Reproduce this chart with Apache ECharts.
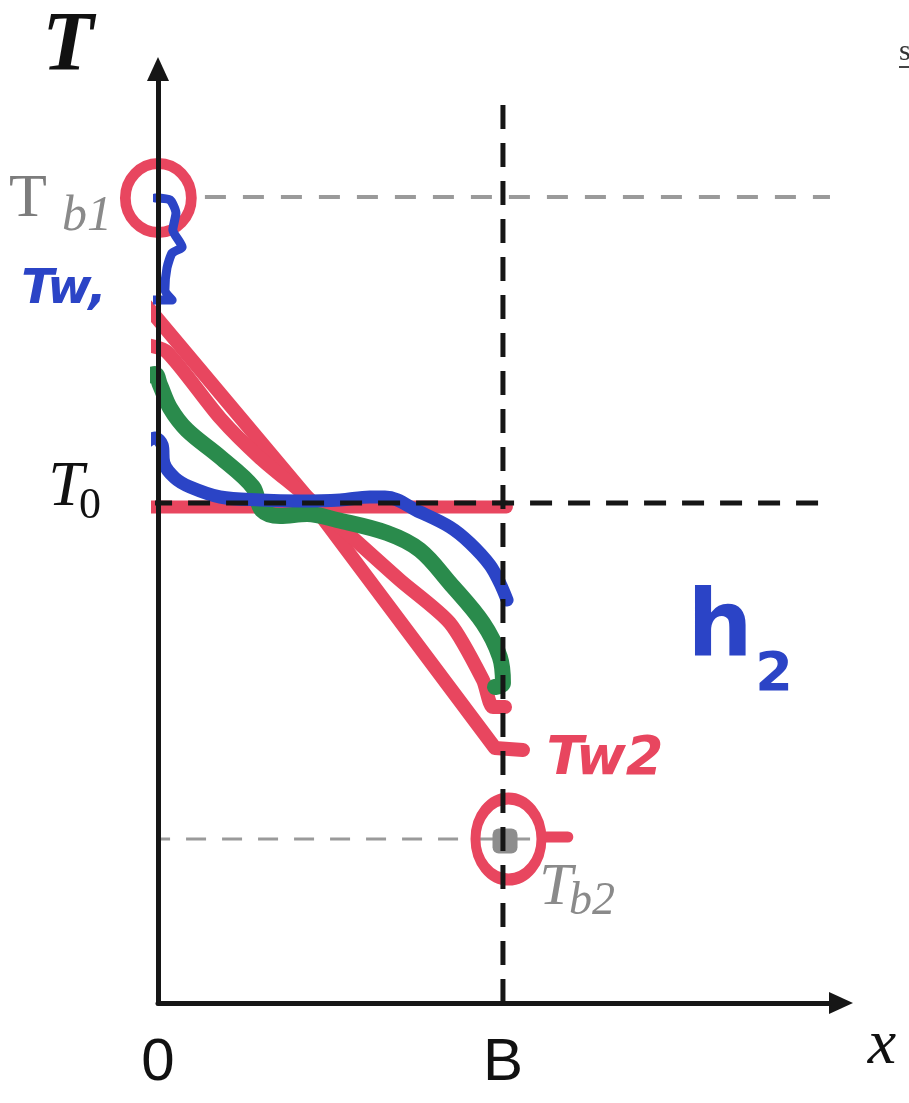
<!DOCTYPE html>
<html>
<head>
<meta charset="utf-8">
<script src="https://cdn.jsdelivr.net/npm/echarts@6/dist/echarts.min.js"></script>
<style>
  html, body { margin: 0; padding: 0; background: #ffffff; }
  #chart { width: 909px; height: 1103px; }
</style>
</head>
<body>
<div id="chart"></div>
<script>
// x is measured in units of the wall thickness B, T in arbitrary temperature units
const xTickLabels = { 0: '0', 1: 'B' };
const wallX = 1;
const T0 = 50.0;    // initial uniform temperature
const Tb1 = 80.6;   // bulk fluid temperature on the left
const Tb2 = 16.4;   // bulk fluid temperature on the right

// Temperature profiles through the wall at successive times
const profileInitial = [[-0.02, 49.6], [1.01, 49.6]];
const profileEarly = [
  [-0.038, 56.0], [-0.009, 56.5], [0.012, 55.8], [0.017, 54.0], [0.049, 52.5],
  [0.093, 51.6], [0.180, 50.6], [0.296, 50.3], [0.412, 50.2], [0.528, 50.3],
  [0.614, 50.6], [0.658, 50.6], [0.759, 49.1], [0.846, 47.6], [0.904, 46.0],
  [0.962, 43.8], [0.991, 42.0], [1.012, 40.3]
];
const profileMiddle = [
  [-0.038, 62.6], [-0.009, 62.9], [0.006, 61.8], [0.035, 59.5], [0.084, 57.3],
  [0.180, 54.6], [0.275, 51.6], [0.301, 49.3], [0.354, 48.7], [0.432, 48.9],
  [0.519, 48.3], [0.664, 47.0], [0.759, 45.3], [0.846, 42.0], [0.942, 38.0],
  [0.991, 34.6], [1.000, 32.0], [0.977, 31.6]
];
const profileLate = [
  [-0.032, 65.8], [0.026, 65.1], [0.180, 58.5], [0.296, 54.5], [0.432, 50.6],
  [0.701, 42.3], [0.846, 38.0], [0.942, 32.3], [0.971, 29.6], [1.006, 29.6]
];
const profileSteady = [[-0.052, 70.5], [0.432, 50.6], [0.977, 25.5], [1.058, 25.3]];

// Brace linking Tb1 to the wall temperature Tw1
const braceTw1 = [
  [-0.009, 80.5], [0.035, 80.3], [0.052, 79.0], [0.043, 77.3], [0.070, 75.6],
  [0.041, 75.0], [0.026, 73.5], [0.020, 71.3], [0.041, 70.3], [-0.052, 70.3]
];
const tailTb1Ring = [[-0.119, 79.8], [-0.096, 81.2]];
const tailTb2Ring = [[1.116, 16.6], [1.188, 16.6]];

// Guide lines
const guideTb1 = [[0.136, Tb1], [1.948, Tb1]];
const guideTb2 = [[-0.023, Tb2], [1.194, Tb2]];
const guideT0 = [[-0.023, T0], [1.948, T0]];
const guideB = [[wallX, 0], [wallX, 89.8]];

const RED = '#e8465f';
const BLUE = '#2b44c6';
const GREEN = '#2a8b4c';
const INK = '#161616';
const GREY = '#8d8d8d';

function stroke(data, color, width, extra) {
  return Object.assign({
    type: 'line', data: data, showSymbol: false, clip: false, silent: true,
    smooth: 0.35,
    lineStyle: { color: color, width: width, cap: 'round', join: 'round' }
  }, extra || {});
}
function dashed(data, color, width, pattern, z) {
  return {
    type: 'line', data: data, showSymbol: false, clip: false, silent: true, z: z,
    lineStyle: { color: color, width: width, type: pattern, cap: 'butt' }
  };
}

const chart = echarts.init(document.getElementById('chart'), null, { renderer: 'canvas' });

chart.setOption({
  animation: false,
  backgroundColor: '#ffffff',
  grid: { left: 158, right: 68, top: 69, bottom: 100 },
  xAxis: {
    type: 'value', min: 0, max: 1.98, interval: 1, z: 10,
    axisLine: { show: true, symbol: ['none', 'triangle'], symbolSize: [22, 24],
      lineStyle: { color: INK, width: 5 } },
    axisTick: { show: false }, splitLine: { show: false },
    axisLabel: {
      formatter: v => (xTickLabels[v] !== undefined ? xTickLabels[v] : ''),
      fontSize: 60, fontFamily: 'Liberation Sans', color: '#111', margin: 30
    }
  },
  yAxis: {
    type: 'value', min: 0, max: 93.4, z: 10,
    axisLine: { show: true, symbol: ['none', 'triangle'], symbolSize: [22, 24],
      lineStyle: { color: INK, width: 5 } },
    axisTick: { show: false }, splitLine: { show: false }, axisLabel: { show: false }
  },
  series: [
    dashed(guideTb1, '#9a9a9a', 4, [21, 17], 1),
    dashed(guideTb2, '#9a9a9a', 3, [20, 16], 1),
    stroke(profileInitial, RED, 13, { smooth: false, z: 2 }),
    stroke(profileSteady, RED, 14, { smooth: false, z: 3 }),
    stroke(profileLate, RED, 14, { smooth: 0.25, z: 3 }),
    stroke(profileMiddle, GREEN, 16, { z: 4 }),
    stroke(profileEarly, BLUE, 13, { z: 5 }),
    stroke(braceTw1, BLUE, 9, { smooth: 0.2, z: 5 }),
    stroke(tailTb1Ring, RED, 8, { smooth: false, z: 3 }),
    stroke(tailTb2Ring, RED, 11, { smooth: false, z: 3 }),
    {
      type: 'scatter', silent: true, z: 6,
      data: [[-0.006, 80.4], [1.006, 16.2]],
      symbol: 'roundRect', symbolSize: (v, p) => (p.dataIndex === 0 ? 21 : 25),
      itemStyle: { color: GREY, opacity: 1 }
    },
    {
      type: 'scatter', silent: true, z: 4,
      data: [{ value: [0.001, 80.5], symbolSize: [66, 69] },
             { value: [1.016, 16.4], symbolSize: [66, 81] }],
      symbol: 'circle',
      itemStyle: { color: 'rgba(0,0,0,0)', borderColor: RED, borderWidth: 11, opacity: 1 }
    },
    dashed(guideT0, INK, 5, [22, 16], 8),
    dashed(guideB, INK, 5, [24, 14], 8)
  ],
  graphic: [
    { type: 'text', z: 20, style: { x: 68, y: 48, text: 'T', textAlign: 'center', textVerticalAlign: 'middle',
      font: 'italic bold 84px "Liberation Serif"', fill: '#111' } },
    { type: 'text', z: 20, style: { x: 882, y: 1046, text: 'x', textAlign: 'center', textVerticalAlign: 'middle',
      font: 'italic 64px "Liberation Serif"', fill: '#111' } },
    { type: 'text', z: 20, style: { x: 66, y: 488, text: 'T', textAlign: 'center', textVerticalAlign: 'middle',
      font: 'italic 64px "Liberation Serif"', fill: '#111' } },
    { type: 'text', z: 20, style: { x: 90, y: 506, text: '0', textAlign: 'center', textVerticalAlign: 'middle',
      font: '44px "Liberation Serif"', fill: '#111' } },
    { type: 'text', z: 20, style: { x: 28, y: 200, text: 'T', textAlign: 'center', textVerticalAlign: 'middle',
      font: '62px "Liberation Serif"', fill: '#7c7c7c' } },
    { type: 'text', z: 20, style: { x: 87, y: 217, text: 'b1', textAlign: 'center', textVerticalAlign: 'middle',
      font: 'italic 50px "Liberation Serif"', fill: '#8a8a8a' } },
    { type: 'text', z: 20, style: { x: 556, y: 888, text: 'T', textAlign: 'center', textVerticalAlign: 'middle',
      font: 'italic 60px "Liberation Serif"', fill: '#8a8a8a' } },
    { type: 'text', z: 20, style: { x: 592, y: 902, text: 'b2', textAlign: 'center', textVerticalAlign: 'middle',
      font: 'italic 46px "Liberation Serif"', fill: '#8a8a8a' } },
    { type: 'text', z: 20, style: { x: 64, y: 291, text: 'Tw,', textAlign: 'center', textVerticalAlign: 'middle',
      font: 'italic bold 48px "DejaVu Sans"', fill: BLUE } },
    { type: 'text', z: 20, style: { x: 605, y: 760, text: 'Tw2', textAlign: 'center', textVerticalAlign: 'middle',
      font: 'italic bold 54px "DejaVu Sans"', fill: RED } },
    { type: 'text', z: 20, style: { x: 720, y: 632, text: 'h', textAlign: 'center', textVerticalAlign: 'middle',
      font: 'bold 92px "DejaVu Sans"', fill: BLUE } },
    { type: 'text', z: 20, style: { x: 774, y: 676, text: '2', textAlign: 'center', textVerticalAlign: 'middle',
      font: 'bold 54px "DejaVu Sans"', fill: BLUE } },
    { type: 'text', z: 20, style: { x: 899, y: 52, text: 's', textAlign: 'left', textVerticalAlign: 'middle',
      font: '30px "Liberation Serif"', fill: '#333' } },
    { type: 'rect', z: 20, shape: { x: 899, y: 66, width: 10, height: 2 }, style: { fill: '#444' } }
  ]
});
</script>
</body>
</html>
